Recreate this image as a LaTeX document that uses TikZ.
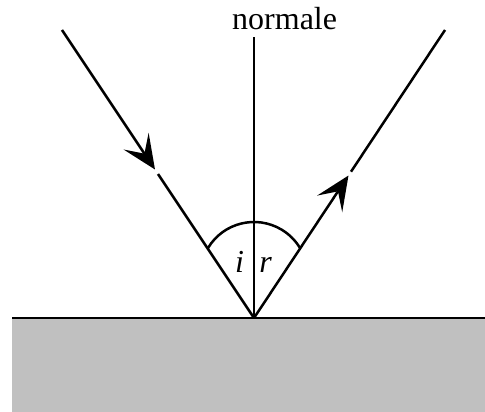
\documentclass[tikz,border=0pt]{standalone}
\usepackage{fontspec}
\setmainfont{Liberation Serif}
\usetikzlibrary{arrows.meta}
\begin{document}
\begin{tikzpicture}[x=1pt,y=-1pt,
  ray/.style={line width=2.5pt},
  tipray/.style={line width=2.5pt,-{Stealth[length=34pt,width=30pt,inset=15pt]}},
  lbl/.style={inner sep=0pt,font=\fontsize{32}{36}\selectfont}]
\useasboundingbox (0,0) rectangle (485,412);
\fill[fill={rgb,255:red,192;green,192;blue,192}] (12,318) rectangle (485,412);
\coordinate (O) at (254,318);
\coordinate (S) at (62,30);
\coordinate (T1) at (155,169.5);
\coordinate (R1) at (158,174);
\coordinate (E) at (445,30);
\coordinate (T2) at (348.5,175.5);
\coordinate (R2) at (351,171.7);
\coordinate (N) at (254,37);
\coordinate (SL) at (12,318);
\coordinate (SR) at (485,318);
\draw[line width=2.8pt] (SL) -- (SR);
\draw[ray] (O) -- (N);
\draw[tipray] (S) -- (T1);
\draw[ray] (R1) -- (O);
\draw[tipray] (O) -- (T2);
\draw[ray] (R2) -- (E);
\draw[ray] (254,275.7) ++(-149:53.7) arc[start angle=-149,end angle=-31,radius=53.7];
\node[lbl,anchor=base west] (nl) at (232,29.5) {normale};
\node[lbl,anchor=base] (il) at (239.5,272.7) {\itshape i};
\node[lbl,anchor=base] (rl) at (265.5,272.7) {\itshape r};
\end{tikzpicture}
\end{document}
